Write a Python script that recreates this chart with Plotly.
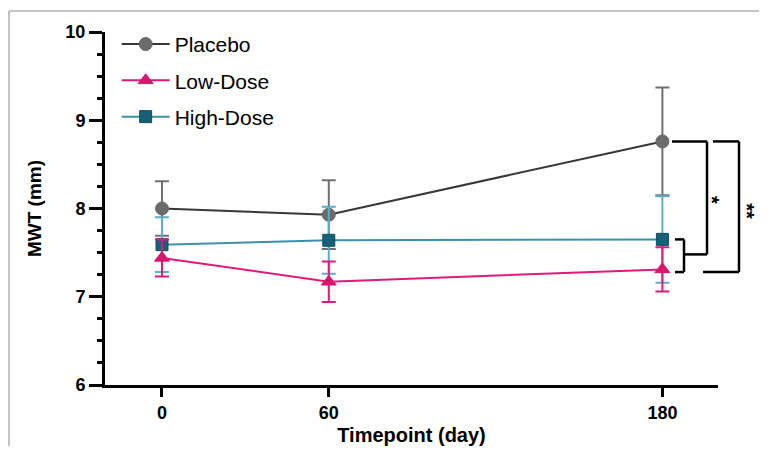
import plotly.graph_objects as go

timepoints = [0, 60, 180]
placebo_mean = [8.00, 7.93, 8.76]
placebo_sd = [0.31, 0.39, 0.61]
low_mean = [7.44, 7.17, 7.31]
low_sd = [0.21, 0.23, 0.25]
high_mean = [7.59, 7.64, 7.65]
high_sd = [0.31, 0.38, 0.49]
x_ticks = [0, 60, 180]
y_ticks = [6, 7, 8, 9, 10]
y_minor_ticks = [6.25, 6.5, 6.75, 7.25, 7.5, 7.75, 8.25, 8.5, 8.75, 9.25, 9.5, 9.75]

FONT = "Liberation Sans, Arial, Helvetica, sans-serif"

fig = go.Figure()

# invisible trace so the minor-tick overlay axis is drawn
fig.add_trace(go.Scatter(x=[None], y=[None], yaxis="y2", showlegend=False, hoverinfo="skip"))

fig.add_trace(go.Scatter(
    x=timepoints, y=placebo_mean, name="Placebo", legendgroup="p", legendrank=1,
    mode="lines+markers",
    line=dict(color="#383838", width=2),
    marker=dict(symbol="circle", size=13, color="#6b6b6b", line=dict(color="#6b6b6b", width=1)),
    error_y=dict(type="data", array=placebo_sd, color="#707070", thickness=2, width=7),
))
fig.add_trace(go.Scatter(
    x=timepoints, y=high_mean, name="High-Dose", legendgroup="h", legendrank=3,
    mode="lines+markers",
    line=dict(color="#3b90ad", width=2),
    marker=dict(symbol="square", size=12, color="#17607a", line=dict(color="#124d63", width=1)),
    error_y=dict(type="data", array=high_sd, color="#5aaec8", thickness=2, width=7),
))
fig.add_trace(go.Scatter(
    x=timepoints, y=low_mean, name="Low-Dose", legendgroup="l", legendrank=2,
    mode="lines+markers",
    line=dict(color="#e0197b", width=2),
    marker=dict(symbol="triangle-up", size=13, color="#d8156f", line=dict(color="#d8156f", width=1)),
    error_y=dict(type="data", array=low_sd, color="#e0197b", thickness=2, width=7),
))

# page pixel -> paper (page has an 8px body margin; plot area spans page x 105..718, y 32..385)
def px(xp):
    return (xp - 105) / 613.0

def py(yp):
    return (385 - yp) / 353.0

lc = dict(color="black", width=2.5)
shapes = []
low_b = low_mean[2] - 0.03
mid = (high_mean[2] + low_mean[2]) / 2
# inner bracket High vs Low
shapes.append(dict(type="line", xref="paper", yref="y", x0=px(675), x1=px(684), y0=high_mean[2], y1=high_mean[2], line=lc))
shapes.append(dict(type="line", xref="paper", yref="y", x0=px(675), x1=px(684), y0=low_b, y1=low_b, line=lc))
shapes.append(dict(type="line", xref="paper", yref="y", x0=px(684), x1=px(684), y0=high_mean[2], y1=low_b, line=lc))
shapes.append(dict(type="line", xref="paper", yref="y", x0=px(684), x1=px(707), y0=mid, y1=mid, line=lc))
# placebo vs doses (*)
shapes.append(dict(type="line", xref="paper", yref="y", x0=px(672), x1=px(707), y0=placebo_mean[2], y1=placebo_mean[2], line=lc))
shapes.append(dict(type="line", xref="paper", yref="y", x0=px(707), x1=px(707), y0=placebo_mean[2], y1=mid, line=lc))
# outer bracket (**)
shapes.append(dict(type="line", xref="paper", yref="y", x0=px(713), x1=px(739), y0=placebo_mean[2], y1=placebo_mean[2], line=lc))
shapes.append(dict(type="line", xref="paper", yref="y", x0=px(739), x1=px(739), y0=placebo_mean[2], y1=low_b, line=lc))
shapes.append(dict(type="line", xref="paper", yref="y", x0=px(703), x1=px(739), y0=low_b, y1=low_b, line=lc))
# frame border of the screenshot
shapes.append(dict(type="line", xref="paper", yref="paper", x0=px(9), x1=px(767), y0=py(11), y1=py(11),
                   line=dict(color="#b0b0b0", width=1.5)))
shapes.append(dict(type="line", xref="paper", yref="paper", x0=px(9), x1=px(9), y0=py(11), y1=py(454),
                   line=dict(color="#b0b0b0", width=1.5)))

annotations = [
    dict(text="<b>*</b>", xref="paper", yref="y", x=px(725), y=(8.76 + 7.475) / 2 - 0.02, showarrow=False,
         textangle=90, font=dict(family=FONT, size=20, color="black")),
    dict(text="<b>**</b>", xref="paper", yref="y", x=px(760), y=(8.76 + 7.28) / 2 - 0.05, showarrow=False,
         textangle=90, font=dict(family=FONT, size=20, color="black")),
]

fig.update_layout(
    width=759, height=438,
    margin=dict(l=97, r=49, t=24, b=61),
    paper_bgcolor="white", plot_bgcolor="white",
    font=dict(family=FONT, color="black"),
    showlegend=True,
    legend=dict(x=0.019, y=1.023, xanchor="left", yanchor="top", bgcolor="rgba(0,0,0,0)",
                font=dict(family=FONT, size=21, color="black"), tracegroupgap=6,
                traceorder="grouped", itemwidth=48),
    shapes=shapes, annotations=annotations,
    xaxis=dict(range=[-20.5, 200], tickmode="array", tickvals=x_ticks, ticktext=[str(v) for v in x_ticks],
               automargin=False,
               showgrid=False, zeroline=False, showline=True, linecolor="black", linewidth=3,
               ticks="outside", ticklen=9, tickwidth=3, tickcolor="black",
               tickfont=dict(family=FONT, size=18, color="black", weight="bold"),
               title=dict(text="<b>Timepoint (day)</b>", font=dict(family=FONT, size=20), standoff=15)),
    yaxis=dict(range=[6, 10], tickmode="array", tickvals=y_ticks, showgrid=False, zeroline=False,
               automargin=False,
               showline=True, linecolor="black", linewidth=3,
               ticks="outside", ticklen=13, tickwidth=3, tickcolor="black",
               tickfont=dict(family=FONT, size=18, color="black", weight="bold"),
               title=dict(text="<b>MWT (mm)</b>", font=dict(family=FONT, size=19), standoff=19)),
    yaxis2=dict(range=[6, 10], overlaying="y", side="left", tickmode="array", tickvals=y_minor_ticks,
                automargin=False,
                showticklabels=False, showgrid=False, zeroline=False, showline=False,
                ticks="outside", ticklen=7, tickwidth=3, tickcolor="black"),
)

fig.write_html("out.html")
